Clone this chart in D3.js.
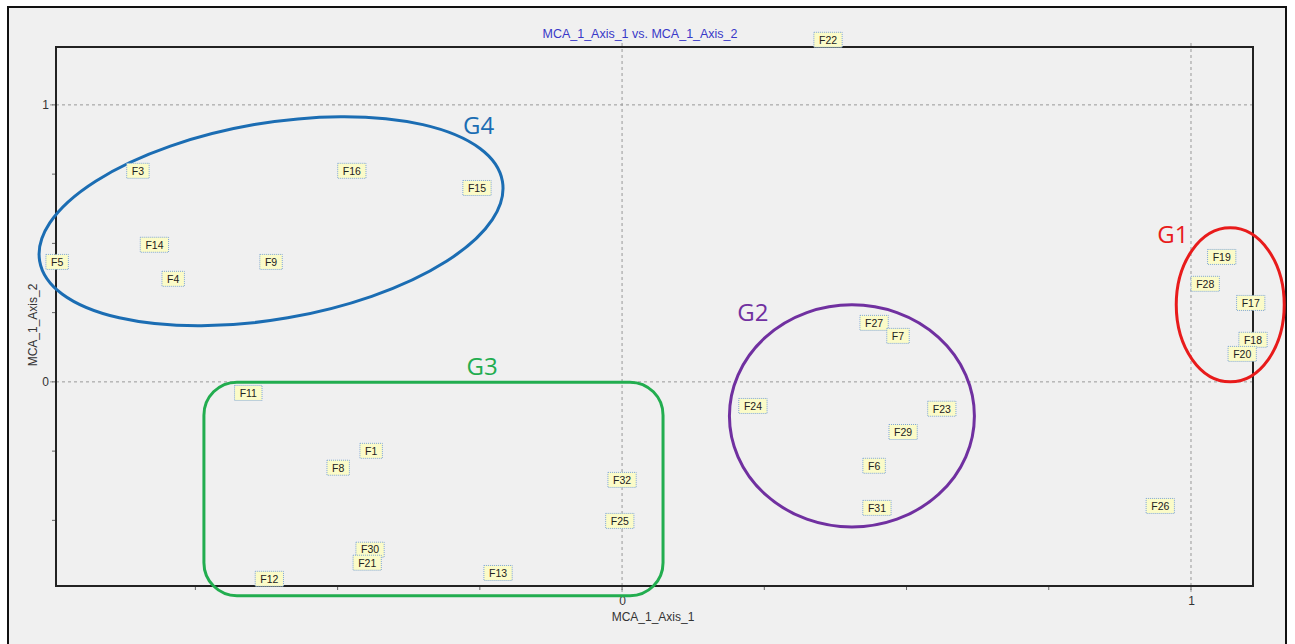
<!DOCTYPE html>
<html><head><meta charset="utf-8">
<script src="https://cdn.jsdelivr.net/npm/d3@7"></script>
<style>
html,body{margin:0;padding:0;background:#fff;}
svg{display:block;}
</style></head>
<body>
<svg id="chart" width="1295" height="644"></svg>
<script>
// ---- data ----
const labels = ["F22","F3","F16","F15","F14","F5","F9","F4","F19","F28","F17","F18","F20","F27","F7","F24","F23","F29","F6","F31","F26","F11","F1","F8","F32","F25","F30","F21","F12","F13"];
const axis1 = [0.362,-0.851,-0.475,-0.255,-0.822,-0.993,-0.617,-0.789,1.054,1.025,1.105,1.109,1.090,0.443,0.485,0.230,0.562,0.494,0.443,0.448,0.946,-0.657,-0.441,-0.499,0.000,-0.004,-0.443,-0.448,-0.620,-0.218];
const axis2 = [1.235,0.762,0.762,0.700,0.495,0.433,0.433,0.372,0.451,0.354,0.285,0.152,0.101,0.213,0.166,-0.087,-0.097,-0.181,-0.303,-0.455,-0.448,-0.040,-0.249,-0.310,-0.354,-0.502,-0.606,-0.653,-0.711,-0.690];
const xTicks = [0, 1];
const yTicks = [0, 1];
const minorTicks = [-0.75,-0.5,-0.25,0,0.25,0.5,0.75,1];
const title = "MCA_1_Axis_1 vs. MCA_1_Axis_2";
const xTitle = "MCA_1_Axis_1";
const yTitle = "MCA_1_Axis_2";
// group annotations (data coordinates)
const groupNames = ["G4","G3","G2","G1"];
const groupColors = ["#1b6db3","#22ad4f","#7030a0","#e81b1b"];
const ellipses = [
  {g:"G4", cx:-0.617, cy:0.580, rx:0.4127, ry:0.354, rot:-9.8, lx:-0.252, ly:0.925},
  {g:"G2", cx:0.404, cy:-0.123, rx:0.2153, ry:0.401, rot:0, lx:0.230, ly:0.251},
  {g:"G1", cx:1.069, cy:0.278, rx:0.0949, ry:0.278, rot:0, lx:0.968, ly:0.531}
];
const rects = [{g:"G3", x0:-0.735, x1:0.072, y0:-0.772, y1:-0.001, r:33, lx:-0.246, ly:0.054}];

// ---- layout ----
const svg = d3.select("#chart");
const L = 56, T = 47, R = 1253, B = 586;
const x = d3.scaleLinear().domain([-0.995, 1.109]).range([L, R]);
const y = d3.scaleLinear().domain([-0.737, 1.209]).range([B, T]);

svg.append("rect").attr("x",8).attr("y",7).attr("width",1278).attr("height",660)
  .attr("fill","#f0f0f0").attr("stroke","#111").attr("stroke-width",2);

svg.append("text").attr("x",640).attr("y",38).attr("text-anchor","middle")
  .attr("font-family","Liberation Sans Narrow, Liberation Sans, Arial, sans-serif").attr("font-size",12)
  .attr("textLength",195).attr("lengthAdjust","spacingAndGlyphs")
  .attr("fill","#3838c8").text(title);

const plot = svg.append("g");
plot.append("rect").attr("x",L).attr("y",T).attr("width",R-L).attr("height",B-T)
  .attr("fill","#f0f0f0");

// grid
xTicks.forEach(v=>{
  plot.append("line").attr("x1",x(v)).attr("x2",x(v)).attr("y1",T-4).attr("y2",B+8)
    .attr("stroke","#999").attr("stroke-dasharray","3,3");
});
yTicks.forEach(v=>{
  plot.append("line").attr("x1",L-6).attr("x2",R).attr("y1",y(v)).attr("y2",y(v))
    .attr("stroke","#999").attr("stroke-dasharray","3,3");
});

// frame
plot.append("rect").attr("x",L).attr("y",T).attr("width",R-L).attr("height",B-T)
  .attr("fill","none").attr("stroke","#222").attr("stroke-width",2);

// axes
const xAxis = d3.axisBottom(x).tickValues(xTicks).tickFormat(d3.format("d")).tickSize(0).tickPadding(10);
const gx = svg.append("g").attr("transform",`translate(0,${B})`).call(xAxis);
const yAxis = d3.axisLeft(y).tickValues(yTicks).tickFormat(d3.format("d")).tickSize(0).tickPadding(7);
const gy = svg.append("g").attr("transform",`translate(${L},0)`).call(yAxis);
[gx,gy].forEach(g=>{
  g.select(".domain").remove();
  g.selectAll("text").attr("font-family","Liberation Sans, Arial, sans-serif").attr("font-size",12).attr("fill","#333");
});
// minor ticks
svg.append("g").selectAll("line").data(minorTicks.filter(v=>v>x.domain()[0]&&v<x.domain()[1])).join("line")
  .attr("x1",d=>x(d)).attr("x2",d=>x(d)).attr("y1",B+1).attr("y2",B+4).attr("stroke","#666");
svg.append("g").selectAll("line").data(minorTicks.filter(v=>v>y.domain()[0]&&v<y.domain()[1])).join("line")
  .attr("x1",L-4).attr("x2",L-1).attr("y1",d=>y(d)).attr("y2",d=>y(d)).attr("stroke","#666");

svg.append("text").attr("x",653).attr("y",621).attr("text-anchor","middle")
  .attr("font-family","Liberation Sans, Arial, sans-serif").attr("font-size",12).attr("fill","#333").text(xTitle);
svg.append("text").attr("transform","translate(37,325) rotate(-90)").attr("text-anchor","middle")
  .attr("font-family","Liberation Sans, Arial, sans-serif").attr("font-size",12).attr("fill","#333").text(yTitle);

// annotations
const colorOf = g => groupColors[groupNames.indexOf(g)];
const ann = svg.append("g");
ellipses.forEach(e=>{
  ann.append("ellipse").attr("cx",x(e.cx)).attr("cy",y(e.cy))
    .attr("rx",x(e.cx+e.rx)-x(e.cx)).attr("ry",y(e.cy)-y(e.cy+e.ry))
    .attr("transform",`rotate(${e.rot},${x(e.cx)},${y(e.cy)})`)
    .attr("fill","none").attr("stroke",colorOf(e.g)).attr("stroke-width",3);
  ann.append("text").attr("x",x(e.lx)).attr("y",y(e.ly)).attr("text-anchor","middle").attr("dy","0.35em")
    .attr("font-family","Open Sans, Noto Sans, sans-serif").attr("font-size",24).attr("fill",colorOf(e.g)).text(e.g);
});
rects.forEach(r=>{
  ann.append("rect").attr("x",x(r.x0)).attr("y",y(r.y1)).attr("width",x(r.x1)-x(r.x0)).attr("height",y(r.y0)-y(r.y1))
    .attr("rx",r.r).attr("fill","none").attr("stroke",colorOf(r.g)).attr("stroke-width",3);
  ann.append("text").attr("x",x(r.lx)).attr("y",y(r.ly)).attr("text-anchor","middle").attr("dy","0.35em")
    .attr("font-family","Open Sans, Noto Sans, sans-serif").attr("font-size",24).attr("fill",colorOf(r.g)).text(r.g);
});

// point labels
const pts = labels.map((l,i)=>({l, a:axis1[i], b:axis2[i]}));
const pg = svg.append("g").selectAll("g").data(pts).join("g")
  .attr("transform",d=>`translate(${x(d.a)},${y(d.b)})`);
pg.append("text").attr("text-anchor","middle").attr("dy","0.36em")
  .attr("font-family","Liberation Sans, Arial, sans-serif").attr("font-size",10.5).attr("fill","#222")
  .text(d=>d.l)
  .each(function(){
    const bb = this.getBBox();
    d3.select(this.parentNode).insert("rect","text")
      .attr("x",-bb.width/2-5).attr("y",-7.5).attr("width",bb.width+10).attr("height",15)
      .attr("fill","#fbfbc8").attr("stroke","#7ea6d6").attr("stroke-width",1).attr("stroke-dasharray","1,1");
  });
</script>
</body></html>
